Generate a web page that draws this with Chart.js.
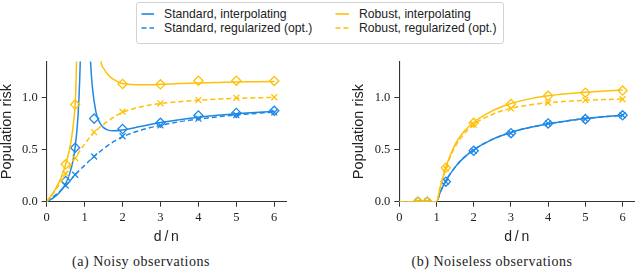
<!DOCTYPE html>
<html>
<head>
<meta charset="utf-8">
<script src="https://cdn.jsdelivr.net/npm/chart.js@4.4.1/dist/chart.umd.min.js"></script>
<style>
  body { margin: 0; background: #fff; }
  #page { position: relative; width: 640px; height: 273px; overflow: hidden; background: #fff; }
  canvas { position: absolute; }
  #legend {
    position: absolute; left: 136px; top: 2px; width: 366px; height: 40px;
    border: 1px solid #d2d2d2; border-radius: 3px;
    font-family: "Liberation Sans", sans-serif; font-size: 12.2px; color: #222;
  }
  .sw { position: absolute; width: 14px; height: 4px; }
  .lbl { position: absolute; white-space: nowrap; line-height: 14px; }
  .caption {
    position: absolute; top: 254px; line-height: 16px; text-align: center;
    font-family: "Liberation Serif", serif; font-size: 14px; letter-spacing: 0.5px; color: #222;
  }
</style>
</head>
<body>
<div id="page">
  <canvas id="noisy" width="300" height="200" style="left:0px;top:50px"></canvas>
  <canvas id="noiseless" width="288" height="200" style="left:352px;top:50px"></canvas>

  <div id="legend">
    <svg class="sw" style="left:4px;top:9px"><line x1="0.5" y1="2" x2="13" y2="2" stroke="#1E88E5" stroke-width="1.6"/></svg>
    <div class="lbl" style="left:27px;top:4px">Standard, interpolating</div>
    <svg class="sw" style="left:4px;top:23px"><line x1="0.5" y1="2" x2="13" y2="2" stroke="#1E88E5" stroke-width="1.6" stroke-dasharray="5,3"/></svg>
    <div class="lbl" style="left:27px;top:18px">Standard, regularized (opt.)</div>
    <svg class="sw" style="left:198px;top:9px"><line x1="0.5" y1="2" x2="14" y2="2" stroke="#FFC107" stroke-width="1.6"/></svg>
    <div class="lbl" style="left:222px;top:4px">Robust, interpolating</div>
    <svg class="sw" style="left:198px;top:23px"><line x1="0.5" y1="2" x2="14" y2="2" stroke="#FFC107" stroke-width="1.6" stroke-dasharray="5,3"/></svg>
    <div class="lbl" style="left:222px;top:18px">Robust, regularized (opt.)</div>
  </div>

  <div class="caption" style="left:0px;width:282px">(a) Noisy observations</div>
  <div class="caption" style="left:392px;width:200px">(b) Noiseless observations</div>
</div>

<script>
const BLUE = "#1E88E5";
const YELLOW = "#FFC107";

const xTickValues = [0, 1, 2, 3, 4, 5, 6];
const xTickLabels = ["0", "1", "2", "3", "4", "5", "6"];
const yTickValues = [0, 0.5, 1.0];
const yTickLabels = ["0.0", "0.5", "1.0"];

// d/n where the experiments were run (markers)
const markerX = [0.5, 0.75, 1.25, 2, 3, 4, 5, 6];
const noisyRobustMarkerX = [0.5, 0.75, 2, 3, 4, 5, 6];

// (a) noisy observations - markers
const noisyStdInterpMarks = [0.2, 0.52, 0.8, 0.7, 0.76, 0.83, 0.855, 0.875];
const noisyStdRegMarks = [0.155, 0.26, 0.435, 0.63, 0.735, 0.8, 0.835, 0.86];
const noisyRobInterpMarks = [0.36, 0.935, 1.134, 1.13, 1.165, 1.165, 1.163];
const noisyRobRegMarks = [0.27, 0.42, 0.67, 0.866, 0.947, 0.978, 1.0, 1.006];

// (a) noisy observations - curves (null = blow-up at the threshold)
const noisyStdInterpX = [0, 0.1, 0.2, 0.3, 0.4, 0.5, 0.6, 0.7, 0.75, 0.8, 0.83, 0.85, 0.87, 0.89, 0.91, 1,
  1.1, 1.15, 1.2, 1.3, 1.4, 1.5, 1.6, 1.75, 2, 2.5, 3, 3.5, 4, 4.5, 5, 5.5, 6];
const noisyStdInterpY = [0, 0.019, 0.044, 0.075, 0.117, 0.175, 0.263, 0.408, 0.525, 0.7, 0.854, 0.992, 1.171, 1.416, 1.77, null,
  1.99, 1.4, 1.12, 0.86, 0.76, 0.713, 0.692, 0.682, 0.69, 0.727, 0.762, 0.79, 0.813, 0.832, 0.848, 0.86, 0.871];

const noisyStdRegX = [0, 0.25, 0.5, 0.75, 1, 1.25, 1.5, 1.75, 2, 2.5, 3, 3.5, 4, 4.5, 5, 5.5, 6];
const noisyStdRegY = [0, 0.07, 0.155, 0.26, 0.35, 0.435, 0.51, 0.575, 0.625, 0.69, 0.735, 0.77, 0.795, 0.817, 0.835, 0.85, 0.862];

const noisyRobInterpX = [0, 0.1, 0.2, 0.3, 0.4, 0.5, 0.6, 0.65, 0.7, 0.73, 0.75, 0.77, 0.79, 0.81, 1,
  1.38, 1.43, 1.5, 1.6, 1.7, 1.8, 1.9, 2, 2.25, 2.5, 3, 3.5, 4, 4.5, 5, 5.5, 6];
const noisyRobInterpY = [0, 0.05, 0.105, 0.17, 0.25, 0.36, 0.5, 0.6, 0.74, 0.84, 0.93, 1.1, 1.4, 1.9, null,
  1.7, 1.36, 1.285, 1.23, 1.195, 1.17, 1.15, 1.138, 1.128, 1.126, 1.13, 1.137, 1.143, 1.148, 1.152, 1.155, 1.158];

const noisyRobRegX = [0, 0.25, 0.5, 0.75, 1, 1.25, 1.5, 1.75, 2, 2.5, 3, 3.5, 4, 4.5, 5, 5.5, 6];
const noisyRobRegY = [0, 0.12, 0.265, 0.42, 0.555, 0.665, 0.745, 0.81, 0.86, 0.915, 0.945, 0.963, 0.977, 0.988, 0.995, 1.0, 1.004];

// (b) noiseless observations - markers
const cleanStdMarks = [0, 0, 0.193, 0.49, 0.66, 0.754, 0.795, 0.832];
const cleanRobInterpMarks = [0, 0, 0.326, 0.76, 0.94, 1.02, 1.05, 1.07];
const cleanRobRegMarks = [0, 0, 0.32, 0.742, 0.898, 0.953, 0.978, 0.987];

// (b) noiseless observations - curves
const cleanX = [0, 0.5, 1, 1.1, 1.25, 1.5, 1.75, 2, 2.5, 3, 3.5, 4, 4.5, 5, 5.5, 6];
const cleanStdY = [0, 0, 0, 0.091, 0.2, 0.333, 0.429, 0.5, 0.6, 0.667, 0.714, 0.75, 0.778, 0.8, 0.818, 0.833];
const cleanRobInterpY = [0, 0, 0, 0.14, 0.33, 0.55, 0.68, 0.765, 0.875, 0.945, 0.99, 1.02, 1.04, 1.055, 1.065, 1.075];
const cleanRobRegY = [0, 0, 0, 0.14, 0.32, 0.53, 0.655, 0.745, 0.84, 0.9, 0.932, 0.953, 0.967, 0.977, 0.983, 0.988];

const pts = (xs, ys) => xs.map((x, i) => ({ x: x, y: ys[i] }));

const curve = (xs, ys, color, dashed) => ({
  data: pts(xs, ys),
  showLine: true,
  borderColor: color,
  borderWidth: 1.5,
  borderDash: dashed ? [5, 3] : [],
  pointRadius: 0,
  spanGaps: false,
  cubicInterpolationMode: "monotone",
});

const marks = (xs, ys, color, style) => ({
  data: pts(xs, ys),
  showLine: false,
  pointStyle: style,
  pointRadius: style === "rectRot" ? 4.6 : 4.2,
  pointBorderWidth: 1.3,
  pointBorderColor: color,
  pointBackgroundColor: "rgba(0,0,0,0)",
  clip: 0,
});

const tickFont = { family: "Liberation Serif", size: 12.5 };
const titleFont = { family: "Liberation Sans", size: 14.5, lineHeight: 1 };

const makeOptions = (yWidth, padRight) => ({
  responsive: false,
  animation: false,
  devicePixelRatio: 1,
  layout: { padding: { top: 6.7, right: padRight, left: 0, bottom: 0 } },
  plugins: { legend: { display: false }, tooltip: { enabled: false } },
  scales: {
    x: {
      type: "linear",
      min: 0,
      max: 6.31,
      afterBuildTicks: (s) => {
        s.ticks = xTickValues.map((v) => ({ value: v }));
      },
      afterFit: (s) => {
        s.height = 48.3;
      },
      ticks: {
        font: tickFont,
        color: "#222",
        padding: 3.5,
        maxRotation: 0,
        callback: (v, i) => xTickLabels[i],
      },
      grid: { drawOnChartArea: false, tickLength: 5, color: "#333" },
      border: { color: "#333", width: 1.1 },
      title: {
        display: true,
        text: "d\u2009/\u2009n",
        font: { family: "Liberation Sans", size: 14 },
        color: "#222",
        padding: { top: 0, bottom: 4 },
      },
    },
    y: {
      type: "linear",
      min: 0,
      max: 1.35,
      afterBuildTicks: (s) => {
        s.ticks = yTickValues.map((v) => ({ value: v }));
      },
      afterFit: (s) => {
        s.width = yWidth;
      },
      ticks: {
        font: tickFont,
        color: "#222",
        padding: 4,
        callback: (v, i) => yTickLabels[i],
      },
      grid: { drawOnChartArea: false, tickLength: 5, color: "#333" },
      border: { color: "#333", width: 1.1 },
      title: {
        display: true,
        text: "Population risk",
        font: titleFont,
        color: "#222",
        padding: { top: 0, bottom: 0 },
      },
    },
  },
});

// yellow first so it sits on top of the blue
const noisyChart = new Chart(document.getElementById("noisy").getContext("2d"), {
  type: "scatter",
  data: {
    datasets: [
      marks(noisyRobustMarkerX, noisyRobInterpMarks, YELLOW, "rectRot"),
      marks(markerX, noisyRobRegMarks, YELLOW, "crossRot"),
      curve(noisyRobInterpX, noisyRobInterpY, YELLOW, false),
      curve(noisyRobRegX, noisyRobRegY, YELLOW, true),
      marks(markerX, noisyStdInterpMarks, BLUE, "rectRot"),
      marks(markerX, noisyStdRegMarks, BLUE, "crossRot"),
      curve(noisyStdInterpX, noisyStdInterpY, BLUE, false),
      curve(noisyStdRegX, noisyStdRegY, BLUE, true),
    ],
  },
  options: makeOptions(46.7, 14),
});

const noiselessChart = new Chart(document.getElementById("noiseless").getContext("2d"), {
  type: "scatter",
  data: {
    datasets: [
      marks(markerX, cleanRobInterpMarks, YELLOW, "rectRot"),
      marks(markerX, cleanRobRegMarks, YELLOW, "crossRot"),
      curve(cleanX, cleanRobInterpY, YELLOW, false),
      curve(cleanX, cleanRobRegY, YELLOW, true),
      marks(markerX, cleanStdMarks, BLUE, "rectRot"),
      marks(markerX, cleanStdMarks, BLUE, "crossRot"),
      curve(cleanX, cleanStdY, BLUE, false),
      curve(cleanX, cleanStdY, BLUE, true),
    ],
  },
  options: makeOptions(47.3, 1.4),
});
</script>
</body>
</html>
